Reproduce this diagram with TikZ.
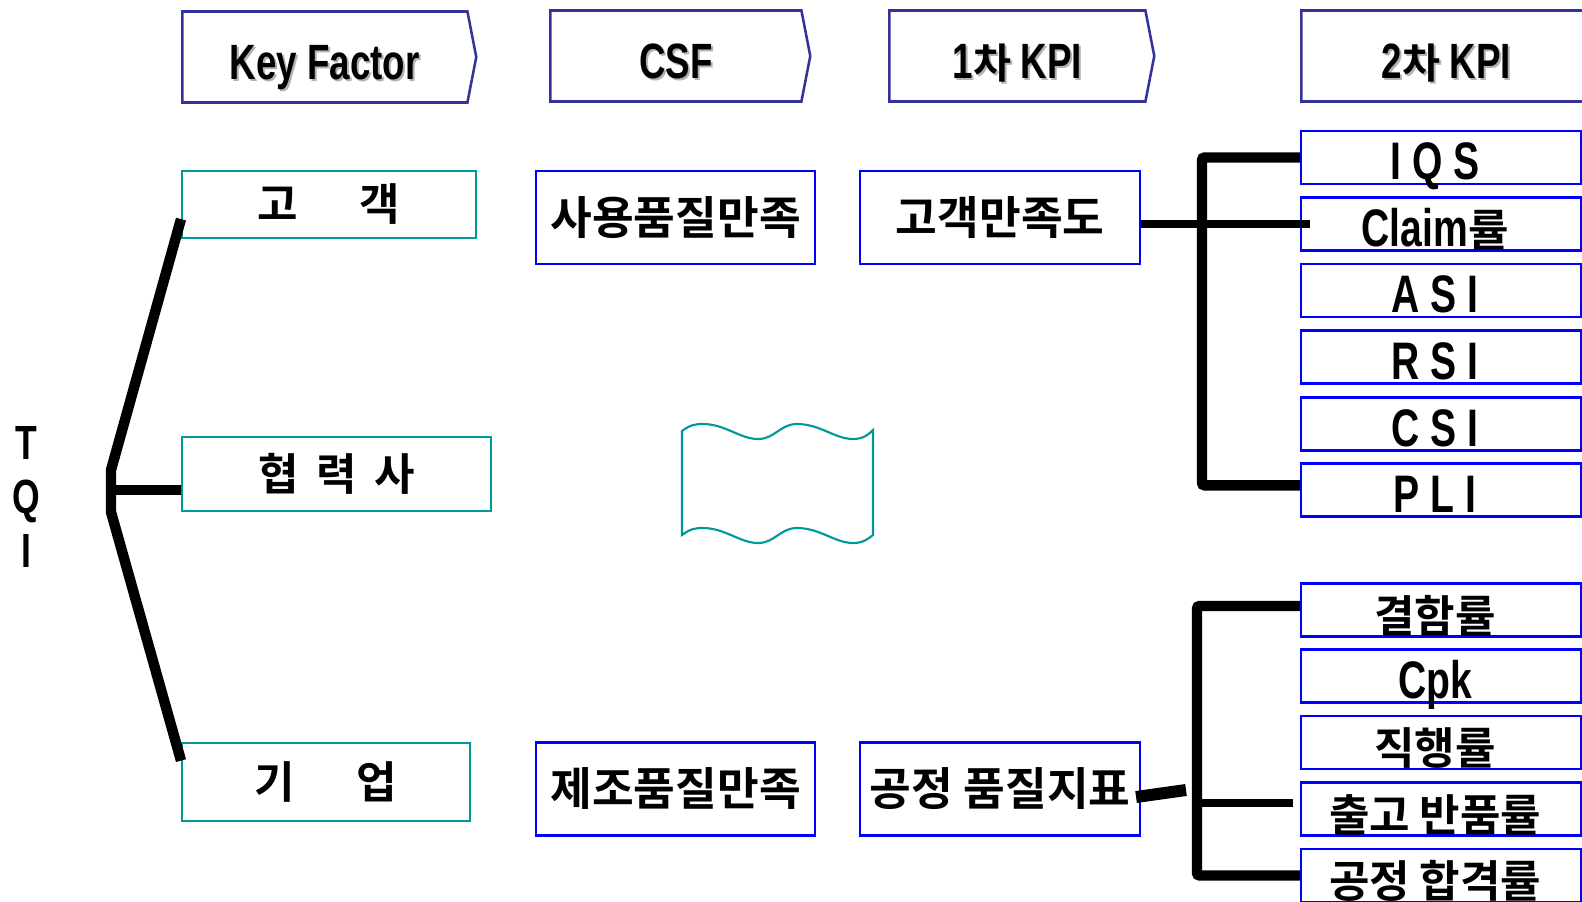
\documentclass[tikz,border=0pt]{standalone}
\usepackage{fontspec}
\setmainfont{Noto Sans CJK KR}[BoldFont={Noto Sans CJK KR Bold}]
\newfontfamily\latfont{Liberation Sans}[Scale=1.2, FakeStretch=0.74]
\newcommand{\eng}[1]{{\latfont\bfseries #1}}
\newcommand{\shad}[1]{\rlap{\smash{\kern1.5pt\raisebox{-1.5pt}{\textcolor{black!30}{#1}}}}#1}
\usetikzlibrary{shapes.symbols}
\definecolor{navy}{HTML}{333399}
\definecolor{tealb}{HTML}{009999}

\begin{document}
\begin{tikzpicture}[x=0.75pt, y=-0.75pt,
		head/.style={signal, signal to=east, signal pointer angle=158, draw=navy, line width=1.9pt,
			inner sep=0, minimum height=68.25pt, text height=33pt, text depth=0pt, anchor=west,
			font=\fontsize{31}{33}\selectfont\bfseries},
		factor/.style={draw=tealb, line width=1.6pt, inner sep=0, anchor=west,
			font=\fontsize{33}{35}\selectfont\bfseries},
		csfbox/.style={draw=blue, line width=1.8pt, inner sep=0, anchor=west, minimum height=69.75pt,
			font=\fontsize{34}{36}\selectfont\bfseries},
		kpibox/.style={draw=blue, line width=1.8pt, inner sep=0, anchor=west, minimum width=210pt,
			minimum height=39.75pt, text height=33pt, text depth=0pt,
			execute at end node={\hspace{9pt}}, font=\fontsize{33}{35}\selectfont\bfseries},
		fan/.style={line width=7.8pt},
		bracket/.style={line width=7.8pt, rounded corners=2pt}]
		\path[use as bounding box] (0, 0) rectangle (1582, 901);
		\clip (0, 0) rectangle (1582, 901);

		% column heads
		\node[head, minimum width=220.5pt] (kf) at (181, 57) {\shad{\eng{Key Factor}}};
		\node[head, minimum width=195pt] (csf) at (549, 56) {\shad{\eng{CSF}}};
		\node[head, minimum width=198.75pt] (kpi1) at (888, 56) {\shad{\eng{1}차 \eng{KPI}}};
		\node[head, minimum width=224.25pt] (kpi2) at (1300, 56) {\shad{\eng{2}차 \eng{KPI}}};

		% key factors
		\node[factor, minimum width=220.5pt, minimum height=50.25pt] (gogaek) at (181, 204.5) {고\hspace{1.4em}객};
		\node[factor, minimum width=231.75pt, minimum height=55.5pt] (hyeop) at (181, 474) {협\hspace{.4em}력\hspace{.4em}사};
		\node[factor, minimum width=216pt, minimum height=58.5pt] (gieop) at (181, 782) {기\hspace{1.4em}업};
		\node[align=center, font=\fontsize{30}{40.5}\selectfont] (tqi) at (26, 497) {\eng{T}\\\eng{Q}\\\eng{I}};

		% csf and 1st kpi
		\node[csfbox, minimum width=209.25pt] (sayong) at (535, 217.5) {사용품질만족};
		\node[csfbox, minimum width=209.25pt] (jejo) at (535, 789) {제조품질만족};
		\node[csfbox, minimum width=210pt] (gogaekman) at (859, 217.5) {고객만족도};
		\node[csfbox, minimum width=210pt] (gongjeong) at (859, 789) {공정 품질지표};

		% 2nd kpi
		\node[kpibox] (iqs) at (1300, 157.5) {\eng{I Q S}};
		\node[kpibox] (claim) at (1300, 224) {\eng{Claim}률};
		\node[kpibox] (asi) at (1300, 290.5) {\eng{A S I}};
		\node[kpibox] (rsi) at (1300, 357) {\eng{R S I}};
		\node[kpibox] (csi) at (1300, 424) {\eng{C S I}};
		\node[kpibox] (pli) at (1300, 490) {\eng{P L I}};
		\node[kpibox] (gyeolham) at (1300, 610) {결함률};
		\node[kpibox] (cpk) at (1300, 676) {\eng{Cpk}};
		\node[kpibox] (jikhaeng) at (1300, 742.5) {직행률};
		\node[kpibox] (chulgo) at (1300, 809) {출고 반품률};
		\node[kpibox] (gonghap) at (1300, 875.5) {공정 합격률};

		% wavy flag
		\draw[tealb, line width=1.6pt] (682, 431) .. controls (690, 425) and (695, 424) .. (703, 424)
			.. controls (725, 424) and (740, 439) .. (758, 439)
			.. controls (775, 439) and (780, 424) .. (797, 424)
			.. controls (820, 424) and (835, 439) .. (853, 439)
			.. controls (863, 439) and (868, 435) .. (873, 430) -- (873, 535)
			.. controls (868, 539) and (863, 543) .. (853, 543)
			.. controls (835, 543) and (820, 528) .. (797, 528)
			.. controls (780, 528) and (775, 543) .. (758, 543)
			.. controls (740, 543) and (725, 528) .. (703, 528)
			.. controls (695, 528) and (690, 529) .. (682, 535) -- cycle;

		% connectors
		\coordinate (vtop) at (111, 470);
		\coordinate (vmid) at (111, 490);
		\coordinate (vbot) at (111, 512);
		\draw[fan] ([yshift=15pt]gogaek.south west) -- (vtop) -- (vbot) -- ([yshift=-14pt]gieop.north west);
		\draw[line width=8pt] (vmid) -- (vmid -| hyeop.west);

		\coordinate (b1) at (1202, 224);
		\draw[bracket] (iqs.west) -| (b1) |- ([yshift=3.5pt]pli.west);
		\draw[line width=6pt] (gogaekman.east |- claim) -- ([xshift=7.5pt]claim.west);

		\coordinate (b2) at (1197, 803);
		\coordinate (b2end) at (1293, 803);
		\coordinate (lnk) at (1186, 790);
		\draw[bracket] ([yshift=3pt]gyeolham.west) -| (b2) |- (gonghap.west);
		\draw[line width=6.5pt] (b2) -- (b2end);
		\draw[line width=9pt] ([xshift=-4pt, yshift=-6pt]gongjeong.east) -- (lnk);
	\end{tikzpicture}
\end{document}
